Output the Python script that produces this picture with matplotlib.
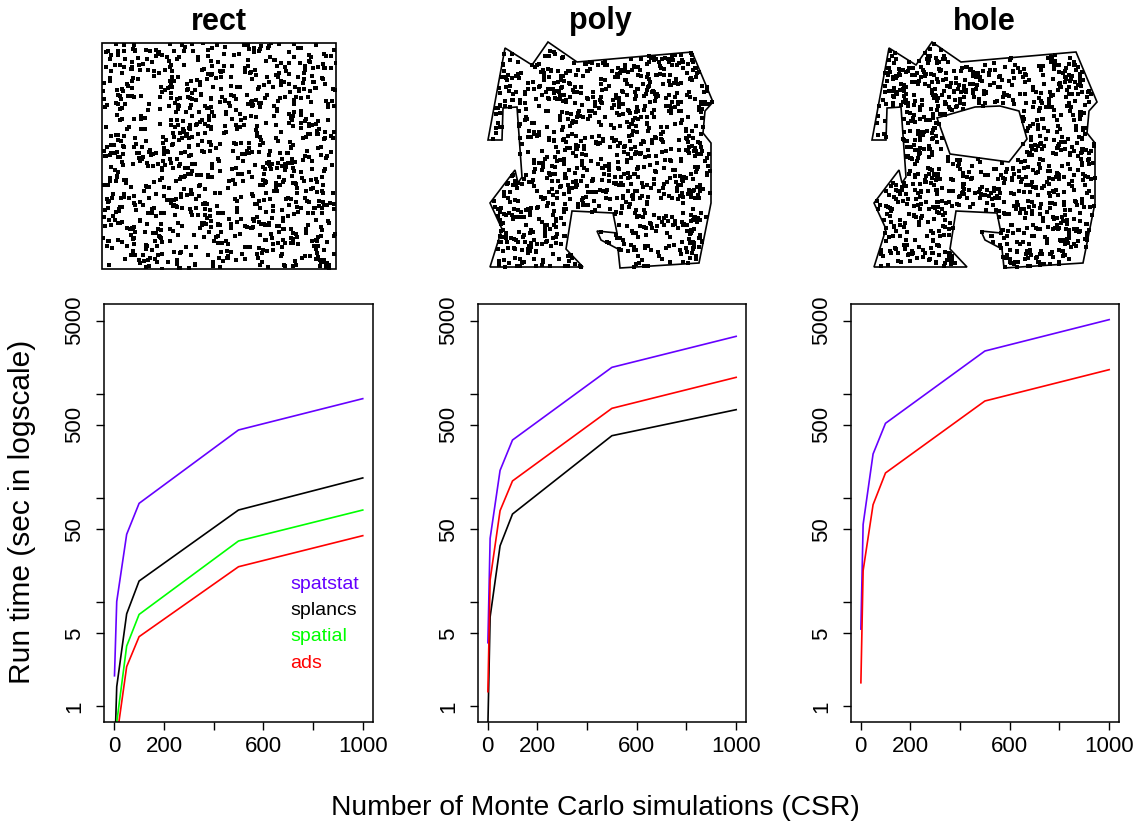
import numpy as np
import matplotlib
matplotlib.use("Agg")
import matplotlib.pyplot as plt
from matplotlib.path import Path
from matplotlib.patches import Polygon
from matplotlib.lines import Line2D
from matplotlib.ticker import NullLocator

plt.rcParams['font.family'] = ['Liberation Sans', 'DejaVu Sans']

# x: number of Monte Carlo simulations
n_sims = [1, 10, 50, 100, 500, 1000]

# run times in seconds
rect_spatstat = [1.96, 10.1, 44.6, 88.4, 447, 893]
rect_splancs = [0.3, 1.54, 7.7, 15.9, 76.3, 155]
rect_spatial = [0.25, 0.7, 3.78, 7.6, 38.5, 76.3]
rect_ads = [0.2, 0.5, 2.40, 4.65, 21.8, 43.3]

poly_spatstat = [4.07, 40.8, 183, 358, 1783, 3538]
poly_splancs = [0.65, 7.2, 34.6, 69.8, 394, 700]
poly_ads = [1.38, 16.3, 75.2, 145, 721, 1430]

hole_spatstat = [5.5, 55.5, 263, 518, 2558, 5115]
hole_ads = [1.68, 20.0, 85.8, 173, 848, 1694]

pkg_names = ['spatstat', 'splancs', 'spatial', 'ads']
pkg_colors = ['#6600FF', 'black', '#00FF00', 'red']

poly_x = [17, 44, 60, 89, 204, 225, 217, 215, 223, 223, 211, 132, 130, 113,
          109, 129, 125, 84, 78, 95, 2, 14, 2, 27, 30, 34, 29, 15, 14, 0]
poly_y = [221, 204, 227, 207, 217, 167, 158, 136, 126, 66, 6, 1, 20, 29,
          38, 36, 56, 58, 20, 2, 2, 40, 66, 99, 86, 92, 162, 161, 129, 129]
hole_x = [65, 103, 128, 147, 155, 137, 78]
hole_y = [151, 162, 163, 158, 130, 107, 115]

n_points = 1000
panel_titles = ['rect', 'poly', 'hole']

# CSR pattern: the top row shows one simulated complete spatial randomness pattern
rng = np.random.default_rng(7)


def csr(inside, n, w, h):
    pts = np.empty((0, 2))
    while len(pts) < n:
        cand = rng.uniform(0, 1, size=(4 * n, 2)) * [w, h]
        pts = np.vstack([pts, cand[inside(cand)]])
    return pts[:n]


W = 1138
H = 825
fig = plt.figure(figsize=(W / 100, H / 100), dpi=100)


def px_axes(x0, y0, x1, y1):
    return fig.add_axes([x0 / W, 1 - y1 / H, (x1 - x0) / W, (y1 - y0) / H])


outer = list(zip(poly_x, poly_y))
inner = list(zip(hole_x, hole_y))
outer_path = Path(outer + [outer[0]], closed=True)
inner_path = Path(inner + [inner[0]], closed=True)

# --- top row: point patterns
ax = px_axes(102.3, 42.7, 335.7, 269.3)
pts = csr(lambda p: np.ones(len(p), bool), n_points, 1, 1)
ax.plot(pts[:, 0], pts[:, 1], 's', ms=2.3, mew=0, color='black')
ax.add_patch(Polygon([(0, 0), (1, 0), (1, 1), (0, 1)], fill=False, lw=1.2,
                     ec='black', clip_on=False))
ax.set_xlim(0, 1)
ax.set_ylim(0, 1)
ax.axis('off')
ax.set_title('rect', fontsize=22, fontweight='bold', pad=9)

for k, x0 in enumerate([488, 872]):
    ax = px_axes(x0, 42, x0 + 225, 269)
    if k == 0:
        pts = csr(lambda p: outer_path.contains_points(p), n_points, 225, 227)
    else:
        pts = csr(lambda p: outer_path.contains_points(p) & ~inner_path.contains_points(p),
                  n_points, 225, 227)
    ax.plot(pts[:, 0], pts[:, 1], 's', ms=2.3, mew=0, color='black')
    ax.add_patch(Polygon(outer, closed=True, fill=False, lw=1.2, ec='black', clip_on=False))
    if k == 1:
        ax.add_patch(Polygon(inner, closed=True, fill=False, lw=1.2, ec='black', clip_on=False))
    ax.set_xlim(0, 225)
    ax.set_ylim(0, 227)
    ax.axis('off')
    ax.set_title(panel_titles[k + 1], fontsize=22, fontweight='bold', pad=9)

# --- bottom row: run times
series = [
    [rect_spatstat, rect_splancs, rect_spatial, rect_ads],
    [poly_spatstat, poly_splancs, None, poly_ads],
    [hole_spatstat, None, None, hole_ads],
]
lefts = [104.3, 477.7, 850.7]

for i, left in enumerate(lefts):
    ax = px_axes(left, 304.3, left + 268.4, 721.7)
    for ys, col in zip(series[i], pkg_colors):
        if ys is not None:
            ax.plot(n_sims, ys, color=col, lw=1.2)
    ax.set_yscale('log')
    ax.set_xlim(-40, 1040)
    ax.set_ylim(0.711, 7178)
    ax.set_yticks([1, 5, 10, 50, 100, 500, 1000, 5000])
    ax.set_yticklabels(['1', '5', '', '50', '', '500', '', '5000'],
                       rotation=90, va='center')
    ax.yaxis.set_minor_locator(NullLocator())
    ax.set_xticks([0, 200, 400, 600, 800, 1000])
    ax.set_xticklabels(['0', '200', '', '600', '', '1000'])
    ax.tick_params(length=5.5, width=1, labelsize=16, pad=8)
    ax.tick_params(axis='x', pad=5)
    for s in ax.spines.values():
        s.set_linewidth(1.1)
    if i == 0:
        handles = [Line2D([], [], visible=False) for _ in pkg_names]
        ax.legend(handles, pkg_names, labelcolor=pkg_colors, frameon=False,
                  handlelength=0, handletextpad=0, fontsize=14,
                  labelspacing=0.45, loc='upper left',
                  bbox_to_anchor=(0.665, 0.37), borderaxespad=0)

fig.text(22 / W, 1 - 512 / H, 'Run time (sec in logscale)', rotation=90,
         ha='center', va='center', fontsize=21.5)
fig.text(595 / W, 1 - 808 / H, 'Number of Monte Carlo simulations (CSR)',
         ha='center', va='center', fontsize=20.3)

fig.savefig('out.png', dpi=100)
